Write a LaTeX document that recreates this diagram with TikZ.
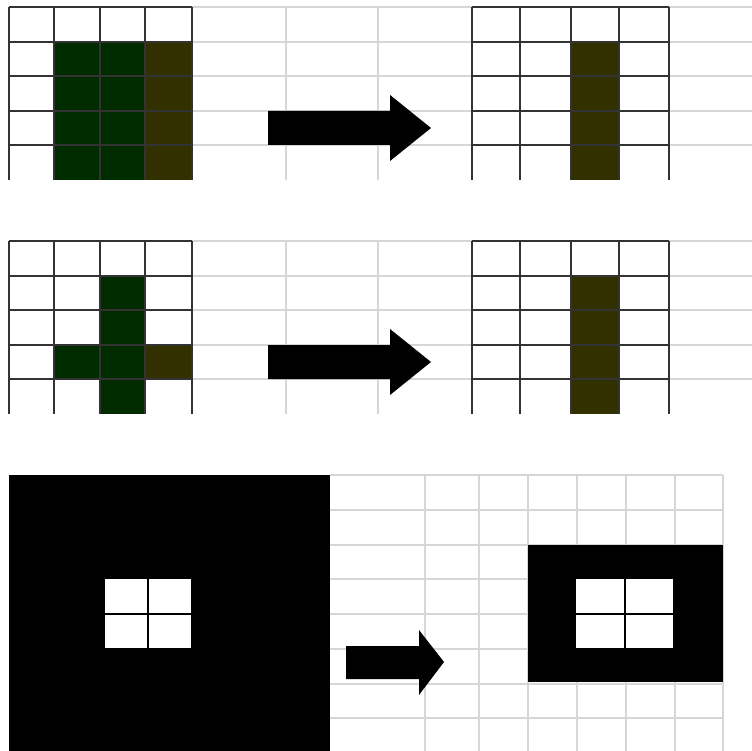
\documentclass[tikz,border=0pt]{standalone}
\usetikzlibrary{positioning}
\definecolor{darkgreen}{RGB}{0,44,0}
\definecolor{darkolive}{RGB}{51,48,0}
\tikzset{
  cellline/.style={line width=1.4pt, black!80},
  faintline/.style={line width=1.4pt, black!16},
  crossline/.style={line width=1.2pt, black},
  blockarrow/.style={fill=black}
}

\begin{document}
\begin{tikzpicture}[x=1pt, y=-1pt]
\useasboundingbox[fill=white] (0,0) rectangle (752,751);

% two small panels
\foreach \dy in {0,234} {
  \foreach \y in {7,42,76,111,145}
    \draw[faintline] (192,\y+\dy) -- (752,\y+\dy);
  \foreach \x in {286,378}
    \draw[faintline] (\x,7+\dy) -- (\x,180+\dy);
  \fill[darkolive] (571,42+\dy) rectangle (619,180+\dy);
  \fill[blockarrow] (268,111+\dy) -- (390,111+\dy) -- (390,95+\dy) -- (431,128+\dy)
    -- (390,161+\dy) -- (390,145+\dy) -- (268,145+\dy) -- cycle;
}

\fill[darkgreen] (54,42) rectangle (145,180);
\fill[darkolive] (145,42) rectangle (192,180);

\fill[darkgreen] (100,276) rectangle (145,414);
\fill[darkgreen] (54,345) rectangle (100,379);
\fill[darkolive] (145,345) rectangle (192,379);

\foreach \dy in {0,234} {
  \foreach \y in {7,42,76,111,145} {
    \draw[cellline] (9,\y+\dy) -- (192,\y+\dy);
    \draw[cellline] (472,\y+\dy) -- (669,\y+\dy);
  }
  \foreach \x in {9,54,100,145,192,472,520,571,619,669}
    \draw[cellline] (\x,7+\dy) -- (\x,180+\dy);
}

% large panel
\foreach \y in {475,510,545,579,614,649,684,718}
  \draw[faintline] (330,\y) -- (723,\y);
\foreach \x in {425,479,528,577,626,675,723}
  \draw[faintline] (\x,475) -- (\x,751);

\fill[black] (9,475) rectangle (330,751);
\fill[white] (105,579) rectangle (191,648);
\draw[crossline] (148,579) -- (148,648);
\draw[crossline] (105,614) -- (191,614);

\fill[black] (528,545) rectangle (723,682);
\fill[white] (576,579) rectangle (673,648);
\draw[crossline] (625,579) -- (625,648);
\draw[crossline] (576,614) -- (673,614);

\fill[blockarrow] (346,646) -- (419,646) -- (419,630) -- (444,662) -- (419,695)
  -- (419,679) -- (346,679) -- cycle;
\end{tikzpicture}
\end{document}
